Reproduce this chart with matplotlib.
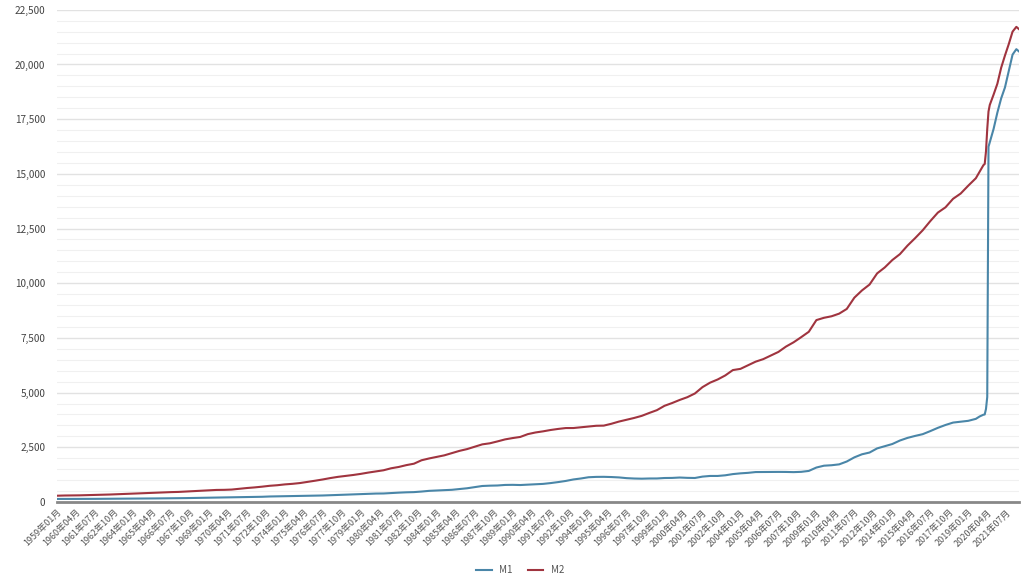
import matplotlib
matplotlib.use("Agg")
import matplotlib.pyplot as plt
from matplotlib.ticker import FuncFormatter, MultipleLocator

plt.rcParams['font.family'] = ['Noto Sans CJK SC', 'DejaVu Sans']

# ---- data (billions) ----
dates = []
for y in range(1959, 2020):
    dates += [f"{y}-01", f"{y}-07"]
dates += ["2019-10", "2020-01", "2020-02", "2020-03", "2020-04", "2020-05", "2020-06",
          "2020-09", "2020-12", "2021-03", "2021-06", "2021-09", "2021-12", "2022-03", "2022-05"]

m2 = [286.6, 295.9, 298.2, 304.0, 313.0, 321.0, 333.0, 342.0, 356.0, 367.0,
      380.0, 393.0, 409.0, 423.0, 440.0, 451.0, 460.0, 479.0, 500.0, 517.0,
      541.0, 551.0, 555.0, 568.0, 604.0, 638.0, 666.0, 700.0, 740.0, 766.0,
      804.0, 830.0, 866.0, 918.0, 973.0, 1030.0, 1094.0, 1149.0, 1192.0, 1234.0,
      1285.0, 1345.0, 1398.0, 1450.0, 1541.0, 1601.0, 1685.0, 1750.0, 1907.0, 1990.0,
      2062.0, 2132.0, 2236.0, 2337.0, 2418.0, 2525.0, 2634.0, 2683.0, 2769.0, 2861.0,
      2922.0, 2973.0, 3102.0, 3177.0, 3229.0, 3291.0, 3340.0, 3380.0, 3381.0, 3415.0,
      3454.0, 3484.0, 3491.0, 3575.0, 3676.0, 3760.0, 3841.0, 3937.0, 4071.0, 4198.0,
      4397.0, 4523.0, 4665.0, 4790.0, 4960.0, 5250.0, 5455.0, 5600.0, 5785.0, 6030.0,
      6085.0, 6250.0, 6415.0, 6530.0, 6695.0, 6860.0, 7105.0, 7300.0, 7535.0, 7780.0,
      8315.0, 8420.0, 8490.0, 8610.0, 8825.0, 9340.0, 9670.0, 9940.0, 10450.0, 10720.0,
      11060.0, 11330.0, 11720.0, 12060.0, 12420.0, 12840.0, 13230.0, 13470.0, 13860.0, 14100.0,
      14460.0, 14800.0,
      15100.0, 15400.0, 15450.0, 16020.0, 17050.0, 17850.0, 18150.0,
      18620.0, 19120.0, 19850.0, 20410.0, 20930.0, 21500.0, 21720.0, 21620.0]

m1 = [138.9, 141.5, 140.0, 139.9, 141.2, 143.0, 145.2, 145.8, 148.2, 150.7,
      153.7, 157.0, 160.7, 162.7, 168.7, 170.0, 171.9, 178.0, 184.0, 189.5,
      198.7, 201.0, 206.2, 209.0, 215.3, 223.4, 230.1, 238.0, 251.5, 257.5,
      264.0, 269.0, 273.9, 284.6, 289.6, 297.0, 308.1, 319.0, 334.4, 346.9,
      358.6, 375.0, 385.2, 389.0, 410.0, 427.0, 442.0, 451.0, 477.0, 509.0,
      524.0, 542.0, 557.0, 590.0, 627.0, 677.0, 731.0, 746.0, 754.0, 779.0,
      784.0, 775.0, 795.0, 810.0, 827.0, 864.0, 910.0, 962.0, 1030.0, 1075.0,
      1131.0, 1147.0, 1150.0, 1140.0, 1123.0, 1090.0, 1073.0, 1065.0, 1074.0, 1075.0,
      1096.0, 1100.0, 1118.0, 1103.0, 1097.0, 1160.0, 1190.0, 1190.0, 1220.0, 1275.0,
      1309.0, 1332.0, 1368.0, 1372.0, 1379.0, 1375.0, 1373.0, 1365.0, 1378.0, 1420.0,
      1575.0, 1659.0, 1680.0, 1720.0, 1850.0, 2040.0, 2180.0, 2260.0, 2450.0, 2550.0,
      2650.0, 2810.0, 2930.0, 3020.0, 3100.0, 3240.0, 3390.0, 3520.0, 3630.0, 3670.0,
      3710.0, 3800.0,
      3910.0, 3990.0, 4000.0, 4250.0, 4800.0, 16240.0, 16440.0,
      17050.0, 17800.0, 18450.0, 18950.0, 19700.0, 20450.0, 20700.0, 20600.0]

start_year, start_month = 1959, 1
end_label = "2021-07"
tick_step_months = 15

def month_index(s):
    y, m = map(int, s.split("-"))
    return (y - start_year) * 12 + (m - start_month)

x = [month_index(d) for d in dates]
last_tick = month_index(end_label)
tick_pos = list(range(0, last_tick + 1, tick_step_months))
tick_labels = []
for p in tick_pos:
    y = start_year + (start_month - 1 + p) // 12
    m = (start_month - 1 + p) % 12 + 1
    tick_labels.append(f"{y}年{m:02d}月")

fig = plt.figure(figsize=(10.24, 5.76), dpi=100)
ax = fig.add_axes([0.0557, 0.1285, 0.9393, 0.8545])

c_m1 = "#4a86a8"
c_m2 = "#a0343f"
ax.plot(x, m1, color=c_m1, lw=1.5, label="M1", zorder=3)
ax.plot(x, m2, color=c_m2, lw=1.5, label="M2", zorder=3)

ax.set_xlim(0, max(x))
ax.set_ylim(0, 22500)
ax.yaxis.set_major_locator(MultipleLocator(2500))
ax.yaxis.set_minor_locator(MultipleLocator(500))
ax.yaxis.set_major_formatter(FuncFormatter(lambda v, p: f"{int(v):,}"))
ax.grid(axis='y', which='major', color='#e2e2e2', lw=1.0)
ax.grid(axis='y', which='minor', color='#f0f0f0', lw=0.8)
ax.set_axisbelow(True)

ax.set_xticks(tick_pos)
ax.set_xticklabels(tick_labels, rotation=45, ha='right', rotation_mode='anchor',
                   fontsize=6.5, color='#555555')
ax.tick_params(axis='x', length=0, pad=4)
ax.tick_params(axis='y', which='both', length=0, labelsize=7.2, labelcolor='#444444', pad=8.5)

for s in ['top', 'right', 'left']:
    ax.spines[s].set_visible(False)
ax.spines['bottom'].set_color('#888888')
ax.spines['bottom'].set_linewidth(2.0)

leg = fig.legend(loc='center', bbox_to_anchor=(0.508, 0.01), ncol=2, frameon=False,
                 fontsize=7, handlelength=1.6, columnspacing=1.5, labelcolor='#555555')

fig.savefig("out.png", dpi=100, facecolor='white')
